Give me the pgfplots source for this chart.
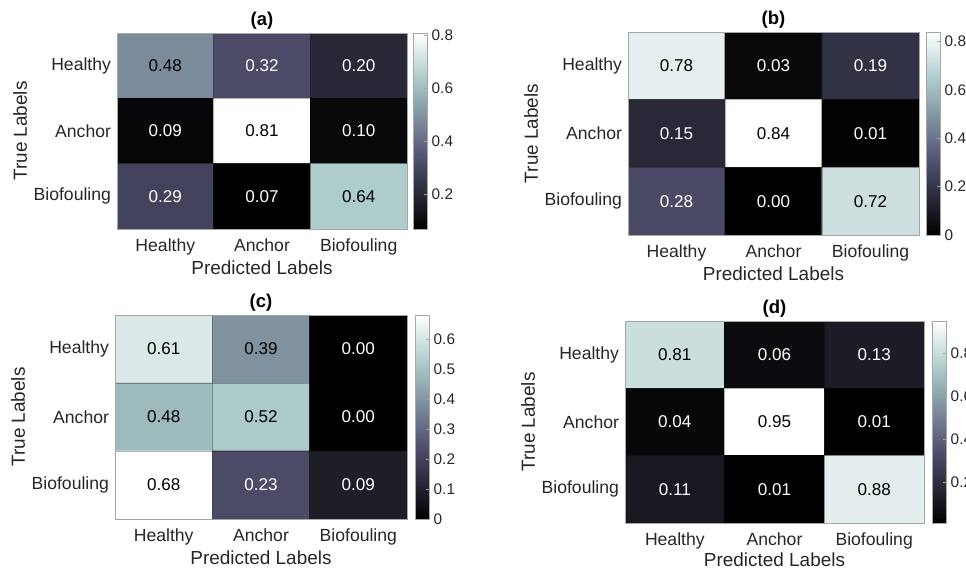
\documentclass[border=0pt]{standalone}
\usepackage{pgfplots}
\pgfplotsset{compat=1.18}
\usepackage{pgfplotstable}
\usepackage{fontspec}
\setmainfont{Liberation Sans}
\definecolor{lbl}{HTML}{262626}
\definecolor{frm}{HTML}{A6A6A6}

\pgfplotstableread{
x y c
0 0 0.48
1 0 0.32
2 0 0.20
0 1 0.09
1 1 0.81
2 1 0.10
0 2 0.29
1 2 0.07
2 2 0.64
}\tabA
\pgfplotstableread{
x y c
0 0 0.78
1 0 0.03
2 0 0.19
0 1 0.15
1 1 0.84
2 1 0.01
0 2 0.28
1 2 0.00
2 2 0.72
}\tabB
\pgfplotstableread{
x y c
0 0 0.61
1 0 0.39
2 0 0.00
0 1 0.48
1 1 0.52
2 1 0.00
0 2 0.68
1 2 0.23
2 2 0.09
}\tabC
\pgfplotstableread{
x y c
0 0 0.81
1 0 0.06
2 0 0.13
0 1 0.04
1 1 0.95
2 1 0.01
0 2 0.11
1 2 0.01
2 2 0.88
}\tabD

\pgfplotsset{
  /pgf/number format/assume math mode=true,
  colormap={bone}{rgb(0)=(0,0,0) rgb(3)=(0.328,0.328,0.453) rgb(6)=(0.656,0.781,0.781) rgb(8)=(1,1,1)},
  cm/.style={
    scale only axis, y dir=reverse, axis on top,
    xmin=-0.5, xmax=2.5, ymin=-0.5, ymax=2.5,
    xtick={0,1,2}, ytick={0,1,2},
    xticklabels={Healthy,Anchor,Biofouling},
    yticklabels={Healthy,Anchor,Biofouling},
    major tick length=0pt, minor tick length=0pt,
    minor xtick={0.5,1.5}, minor ytick={0.5,1.5},
    xminorgrids, yminorgrids,
    minor grid style={black, opacity=0.3, line width=0.6pt},
    axis line style={frm, line width=0.6pt},
    tick label style={font=\fontsize{13.2}{15}\selectfont, text=lbl},
    xticklabel style={yshift=-3.5pt},
    yticklabel style={xshift=-1pt},
    xlabel={Predicted Labels}, ylabel={True Labels},
    xlabel style={at={([yshift=-29.25pt]axis description cs:0.5,0)}, anchor=center, font=\fontsize{14.2}{16}\selectfont, text=lbl},
    ylabel style={at={([xshift=-72.75pt]axis description cs:0,0.5)}, anchor=center, font=\fontsize{14.2}{16}\selectfont, text=lbl},
    title style={at={([yshift=3pt]axis description cs:0.5,1)}, anchor=center, font=\fontsize{13.9}{16}\selectfont\bfseries},
    colorbar,
    colorbar shift/.style={xshift=#1},
    colorbar style={
      width=10.5pt,
      at={(parent axis.north east)}, anchor=north west,
      axis line style={frm, line width=0.6pt},
      ytick pos=right, tick align=inside,
      major tick length=2.5pt,
      tick style={frm, line width=0.5pt},
      yticklabel style={font=\fontsize{11.5}{13}\selectfont, text=lbl, xshift=0pt},
    },
  },
  heat/.style={matrix plot*, mesh/cols=3, mesh/ordering=x varies, point meta=\thisrow{c}},
  txt/.style={only marks, mark=none, point meta=explicit symbolic,
    nodes near coords,
    every node near coord/.append style={anchor=center, text=#1, font=\fontsize{12.8}{14}\selectfont}},
}

\begin{document}
\begin{tikzpicture}
\path[use as bounding box] (0,0) rectangle (724.5pt,426.75pt);

% (a)
\begin{axis}[cm=4.5pt, at={(87.75pt,402pt)}, anchor=north west,
  width=217.5pt, height=147pt, title={(a)},
  point meta min=0.07, point meta max=0.81,
  colorbar style={ytick={0.2,0.4,0.6,0.8}}]
\addplot[heat] table[x=x,y=y] {\tabA};
\addplot[txt=black] coordinates {(0,0)[0.48] (1,1)[0.81] (2,2)[0.64]};
\addplot[txt=white] coordinates {(1,0)[0.32] (2,0)[0.20] (0,1)[0.09] (2,1)[0.10] (0,2)[0.29] (1,2)[0.07]};
\end{axis}

% (b)
\begin{axis}[cm=5.25pt, at={(471pt,402.75pt)}, anchor=north west,
  width=218.25pt, height=152.25pt, title={(b)},
  point meta min=0, point meta max=0.84,
  colorbar style={ytick={0,0.2,0.4,0.6,0.8}}]
\addplot[heat] table[x=x,y=y] {\tabB};
\addplot[txt=black] coordinates {(0,0)[0.78] (1,1)[0.84] (2,2)[0.72]};
\addplot[txt=white] coordinates {(1,0)[0.03] (2,0)[0.19] (0,1)[0.15] (2,1)[0.01] (0,2)[0.28] (1,2)[0.00]};
\end{axis}

% (c)
\begin{axis}[cm=6pt, at={(86.25pt,190.5pt)}, anchor=north west,
  width=219pt, height=153pt, title={(c)},
  point meta min=0, point meta max=0.68,
  colorbar style={ytick={0,0.1,0.2,0.3,0.4,0.5,0.6}}]
\addplot[heat] table[x=x,y=y] {\tabC};
\addplot[txt=black] coordinates {(0,0)[0.61] (1,0)[0.39] (0,1)[0.48] (1,1)[0.52] (0,2)[0.68]};
\addplot[txt=white] coordinates {(2,0)[0.00] (2,1)[0.00] (1,2)[0.23] (2,2)[0.09]};
\end{axis}

% (d)
\begin{axis}[cm=6pt, at={(468.75pt,186pt)}, anchor=north west,
  width=224.25pt, height=151.5pt, title={(d)},
  xlabel style={at={([yshift=-27.5pt]axis description cs:0.5,0)}},
  point meta min=0.01, point meta max=0.95,
  colorbar style={ytick={0.2,0.4,0.6,0.8}}]
\addplot[heat] table[x=x,y=y] {\tabD};
\addplot[txt=black] coordinates {(0,0)[0.81] (1,1)[0.95] (2,2)[0.88]};
\addplot[txt=white] coordinates {(1,0)[0.06] (2,0)[0.13] (0,1)[0.04] (2,1)[0.01] (0,2)[0.11] (1,2)[0.01]};
\end{axis}
\end{tikzpicture}
\end{document}
